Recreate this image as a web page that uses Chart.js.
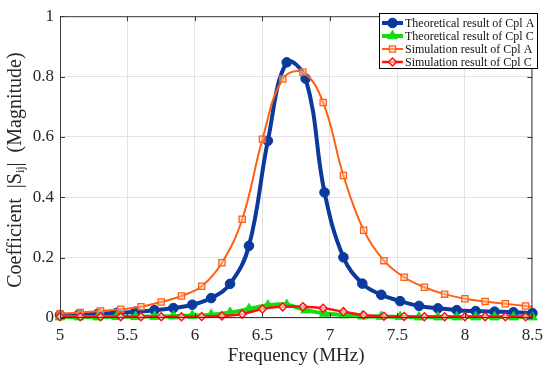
<!DOCTYPE html>
<html>
<head>
<meta charset="utf-8">
<script src="https://cdn.jsdelivr.net/npm/chart.js@4"></script>
<style>
  html, body { margin: 0; padding: 0; background: #fff; }
  #wrap { width: 550px; height: 370px; position: relative; }
</style>
</head>
<body>
<div id="wrap"><canvas id="chart" width="550" height="370"></canvas></div>
<script>
// theoretical curves (step 0.14 MHz)
const theoFreq = [5.00, 5.14, 5.28, 5.42, 5.56, 5.70, 5.84, 5.98, 6.12, 6.26, 6.40, 6.54, 6.68,
                  6.82, 6.96, 7.10, 7.24, 7.38, 7.52, 7.66, 7.80, 7.94, 8.08, 8.22, 8.36, 8.50];
const theoCplA = [0.010, 0.012, 0.014, 0.017, 0.021, 0.026, 0.033, 0.044, 0.066, 0.113, 0.239, 0.587, 0.847,
                  0.793, 0.416, 0.201, 0.114, 0.077, 0.056, 0.040, 0.032, 0.026, 0.023, 0.021, 0.019, 0.016];
const theoCplC = [0.003, 0.003, 0.003, 0.004, 0.004, 0.005, 0.006, 0.008, 0.011, 0.018, 0.030, 0.042, 0.044,
                  0.026, 0.015, 0.010, 0.006, 0.005, 0.004, 0.003, 0.003, 0.003, 0.003, 0.003, 0.003, 0.003];

// simulation curves (step 0.15 MHz, last point only closes the line)
const simFreq = [5.00, 5.15, 5.30, 5.45, 5.60, 5.75, 5.90, 6.05, 6.20, 6.35, 6.50, 6.65, 6.80,
                 6.95, 7.10, 7.25, 7.40, 7.55, 7.70, 7.85, 8.00, 8.15, 8.30, 8.45, 8.50];
const simCplA = [0.014, 0.018, 0.023, 0.029, 0.037, 0.053, 0.073, 0.105, 0.183, 0.327, 0.592, 0.792, 0.814,
                 0.714, 0.472, 0.291, 0.190, 0.135, 0.102, 0.079, 0.064, 0.055, 0.047, 0.040, 0.037];
const simCplC = [0.004, 0.004, 0.004, 0.004, 0.004, 0.004, 0.004, 0.005, 0.007, 0.013, 0.030, 0.037, 0.037,
                 0.032, 0.021, 0.010, 0.006, 0.005, 0.004, 0.004, 0.004, 0.004, 0.004, 0.004, 0.004];

const xTicks = [5, 5.5, 6, 6.5, 7, 7.5, 8, 8.5];
const yTicks = [0, 0.2, 0.4, 0.6, 0.8, 1];
const seriesNames = ['Theoretical result of Cpl A', 'Theoretical result of Cpl C',
                     'Simulation result of Cpl A', 'Simulation result of Cpl C'];

const BLUE = '#0a3a9e', GREEN = '#14dc14', ORANGE = '#ff5f14', RED = '#ff1010';
const FONT = '"Liberation Serif", "Times New Roman", serif';
const TXT = '#262626';

const pts = (xs, ys) => xs.map((x, i) => ({ x: x, y: ys[i] }));
const lastHidden = (n, r) => Array.from({ length: n }, (_, i) => i === n - 1 ? 0 : r);

const styles = [
  { color: BLUE, fill: BLUE, width: 4, style: 'circle', radius: 4.8, bw: 1 },
  { color: GREEN, fill: GREEN, width: 4, style: 'triangle', radius: 5.6, bw: 1 },
  { color: ORANGE, fill: 'rgba(255,200,170,0.5)', width: 2, style: 'rect', radius: 4.4, bw: 1.3 },
  { color: RED, fill: 'rgba(255,255,255,0.6)', width: 2.5, style: 'rectRot', radius: 4, bw: 1.5 }
];

// frame, inward ticks, legend and axis titles
const decor = {
  id: 'decor',
  afterDraw(chart) {
    const ctx = chart.ctx, a = chart.chartArea;
    const xs = chart.scales.x, ys = chart.scales.y;
    ctx.save();
    ctx.strokeStyle = '#3a3a3a';
    ctx.lineWidth = 1;
    ctx.strokeRect(a.left + 0.5, a.top + 0.5, a.right - a.left - 1, a.bottom - a.top - 1);
    ctx.beginPath();
    xTicks.forEach(v => {
      const px = Math.round(xs.getPixelForValue(v)) + 0.5;
      ctx.moveTo(px, a.bottom); ctx.lineTo(px, a.bottom - 5);
      ctx.moveTo(px, a.top); ctx.lineTo(px, a.top + 5);
    });
    yTicks.forEach(v => {
      const py = Math.round(ys.getPixelForValue(v)) + 0.5;
      ctx.moveTo(a.left, py); ctx.lineTo(a.left + 5, py);
      ctx.moveTo(a.right, py); ctx.lineTo(a.right - 5, py);
    });
    ctx.stroke();

    // legend
    const lx = 379, ly = 13, lw = 158, lh = 55;
    ctx.fillStyle = '#fff';
    ctx.fillRect(lx, ly, lw, lh);
    ctx.strokeStyle = '#000';
    ctx.strokeRect(lx + 0.5, ly + 0.5, lw, lh);
    ctx.font = '12px ' + FONT;
    ctx.textBaseline = 'middle';
    ctx.textAlign = 'left';
    seriesNames.forEach((name, i) => {
      const s = styles[i], y = ly + 10 + i * 13;
      ctx.strokeStyle = s.color;
      ctx.lineWidth = s.width;
      ctx.beginPath(); ctx.moveTo(382, y); ctx.lineTo(403, y); ctx.stroke();
      ctx.fillStyle = s.fill;
      ctx.lineWidth = s.bw;
      Chart.helpers.drawPoint(ctx, { pointStyle: s.style, radius: s.radius, rotation: 0, borderWidth: s.bw }, 392.5, y);
      ctx.fillStyle = '#111';
      ctx.fillText(name, 405, y + 1);
    });

    // x title
    ctx.fillStyle = TXT;
    ctx.font = '19px ' + FONT;
    ctx.textAlign = 'center';
    ctx.fillText('Frequency (MHz)', (a.left + a.right) / 2, 356);

    // y title with subscript
    const parts = [['Coefficient  |S', 20, 0], ['ij', 12, 5], ['|  (Magnitude)', 20, 0]];
    let total = 0;
    parts.forEach(p => { ctx.font = p[1] + 'px ' + FONT; p.push(ctx.measureText(p[0]).width); total += p[3]; });
    ctx.translate(16, (a.top + a.bottom) / 2 + 3);
    ctx.rotate(-Math.PI / 2);
    ctx.textAlign = 'left';
    let cx = -total / 2;
    parts.forEach(p => {
      ctx.font = p[1] + 'px ' + FONT;
      ctx.fillText(p[0], cx, p[2]);
      cx += p[3];
    });
    ctx.restore();
  }
};

const mk = (i, xs, ys, hideLast) => ({
  label: seriesNames[i],
  data: pts(xs, ys),
  borderColor: styles[i].color,
  borderWidth: styles[i].width,
  backgroundColor: styles[i].fill,
  pointStyle: styles[i].style,
  pointRadius: hideLast ? lastHidden(xs.length, styles[i].radius) : styles[i].radius,
  pointBorderColor: styles[i].color,
  pointBackgroundColor: styles[i].fill,
  pointBorderWidth: styles[i].bw,
  tension: 0.4,
  fill: false,
  order: 4 - i
});

new Chart(document.getElementById('chart'), {
  type: 'line',
  data: {
    datasets: [
      mk(0, theoFreq, theoCplA, false),
      mk(1, theoFreq, theoCplC, false),
      mk(2, simFreq, simCplA, true),
      mk(3, simFreq, simCplC, true)
    ]
  },
  options: {
    responsive: false,
    animation: false,
    clip: false,
    layout: { padding: { top: 13, right: 14, left: 0, bottom: 0 } },
    plugins: { legend: { display: false }, tooltip: { enabled: false } },
    scales: {
      x: {
        type: 'linear', min: 5, max: 8.5,
        afterBuildTicks: s => { s.ticks = xTicks.map(v => ({ value: v })); },
        afterFit: s => { s.height = 52; },
        grid: { color: '#e2e2e2', drawTicks: false },
        border: { display: false },
        ticks: { color: TXT, padding: 7, maxRotation: 0, font: { family: FONT, size: 17 },
                 callback: v => String(+v.toFixed(1)) }
      },
      y: {
        min: 0, max: 1,
        afterBuildTicks: s => { s.ticks = yTicks.map(v => ({ value: v })); },
        afterFit: s => { s.width = 60; },
        grid: { color: '#e2e2e2', drawTicks: false },
        border: { display: false },
        ticks: { color: TXT, padding: 6, font: { family: FONT, size: 17 },
                 callback: v => String(+v.toFixed(1)) }
      }
    }
  },
  plugins: [decor]
});
</script>
</body>
</html>
